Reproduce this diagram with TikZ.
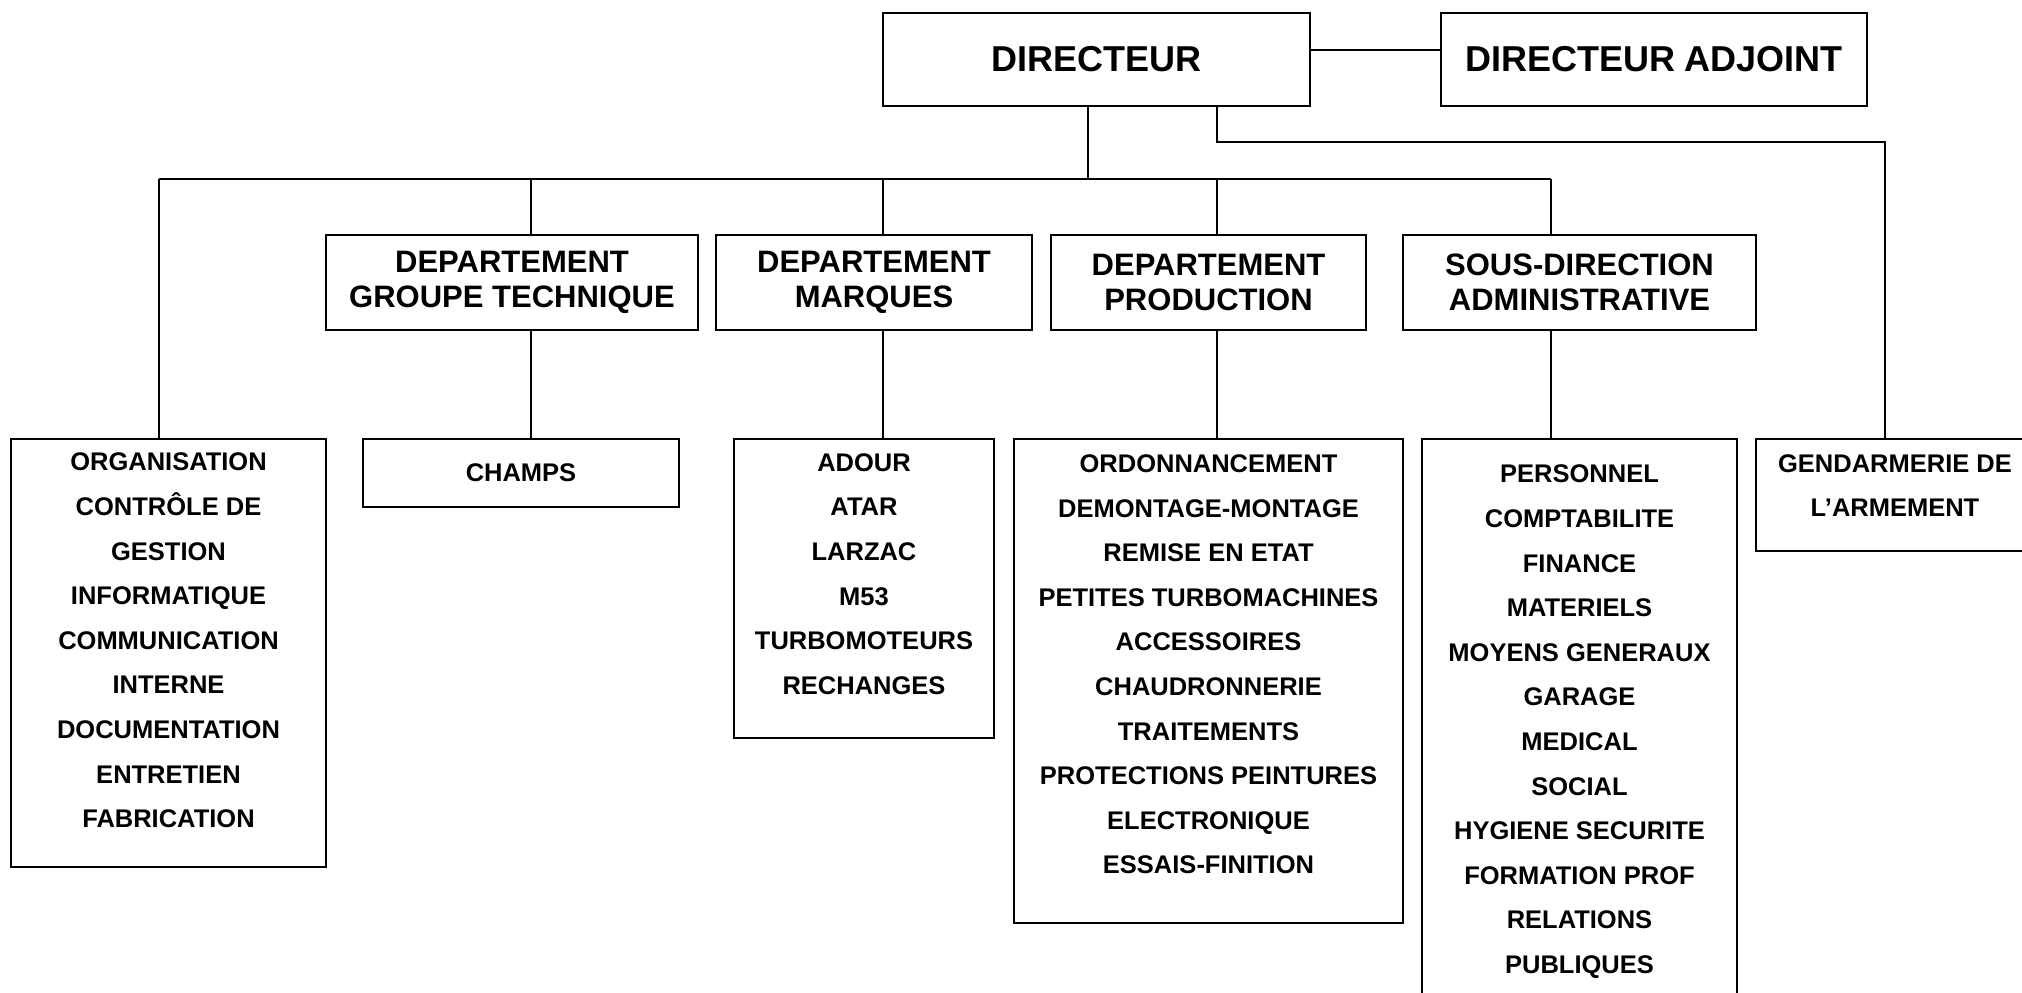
\documentclass[tikz,border=0pt]{standalone}
\usepackage{fontspec}
\setmainfont{Liberation Sans}
\begin{document}
\begin{tikzpicture}[x=0.5pt,y=-0.5pt,
  box/.style={draw=black, line width=1.15pt, fill=white, inner sep=0pt, align=center},
  topbox/.style={box, font=\fontsize{18}{21}\selectfont\bfseries},
  midbox/.style={box, font=\fontsize{15.5}{17.5}\selectfont\bfseries},
  lowbox/.style={box, font=\fontsize{12.75}{22.3}\selectfont\bfseries},
  listtext/.style={inner sep=0pt, align=center, anchor=north, font=\fontsize{12.75}{22.3}\selectfont\bfseries},
  link/.style={draw=black, line width=1pt}]
\useasboundingbox (0,0) rectangle (2022,992);
\clip (0,0) rectangle (2022,992);
\fill[white] (0,0) rectangle (2022,992);

% connectors first (boxes are drawn on top)
\coordinate (jdir) at (1088,179);
\coordinate (jorg) at (159,179);
\coordinate (jgt) at (531,179);
\coordinate (jmq) at (883,179);
\coordinate (jpr) at (1217,179);
\coordinate (jsd) at (1551,179);
\coordinate (g1) at (1217,142);
\coordinate (g2) at (1885,142);

% level 0
\node[topbox, minimum width=213.5pt, minimum height=46.5pt] (dir) at (1096.5,59.5) {DIRECTEUR};
\node[topbox, minimum width=213pt, minimum height=46.5pt] (adj) at (1654,59.5) {DIRECTEUR ADJOINT};

% level 1
\node[midbox, minimum width=186pt, minimum height=47.5pt] (gt) at (512,282.5) {DEPARTEMENT\\GROUPE TECHNIQUE};
\node[midbox, minimum width=158pt, minimum height=47.5pt] (mq) at (874,282.5) {DEPARTEMENT\\MARQUES};
\node[midbox, minimum width=157.5pt, minimum height=47.5pt] (pr) at (1208.5,282.5) {DEPARTEMENT\\PRODUCTION};
\node[midbox, minimum width=176.5pt, minimum height=47.5pt] (sd) at (1579.5,282.5) {SOUS-DIRECTION\\ADMINISTRATIVE};

% level 2
\node[lowbox, minimum width=157.5pt, minimum height=214pt] (org) at (168.5,653) {};
\node[lowbox, minimum width=158pt, minimum height=34pt] (ch) at (521,473) {CHAMPS};
\node[lowbox, minimum width=130pt, minimum height=149.5pt] (ad) at (864,588.5) {};
\node[lowbox, minimum width=194.5pt, minimum height=242pt] (ord) at (1208.5,681) {};
\node[lowbox, minimum width=157.5pt, minimum height=285.5pt] (per) at (1579.5,724.5) {};
\node[lowbox, minimum width=139pt, minimum height=56pt] (gen) at (1895,495) {};

\node[listtext] (orgt) at ([yshift=-7.4pt]org.north) {ORGANISATION\\CONTRÔLE DE\\GESTION\\INFORMATIQUE\\COMMUNICATION\\INTERNE\\DOCUMENTATION\\ENTRETIEN\\FABRICATION};
\node[listtext] (adt) at ([yshift=-7.6pt]ad.north) {ADOUR\\ATAR\\LARZAC\\M53\\TURBOMOTEURS\\RECHANGES};
\node[listtext] (ordt) at ([yshift=-8.2pt]ord.north) {ORDONNANCEMENT\\DEMONTAGE-MONTAGE\\REMISE EN ETAT\\PETITES TURBOMACHINES\\ACCESSOIRES\\CHAUDRONNERIE\\TRAITEMENTS\\PROTECTIONS PEINTURES\\ELECTRONIQUE\\ESSAIS-FINITION};
\node[listtext] (pert) at ([yshift=-13.4pt]per.north) {PERSONNEL\\COMPTABILITE\\FINANCE\\MATERIELS\\MOYENS GENERAUX\\GARAGE\\MEDICAL\\SOCIAL\\HYGIENE SECURITE\\FORMATION PROF\\RELATIONS\\PUBLIQUES};
\node[listtext] (gent) at ([yshift=-8pt]gen.north) {GENDARMERIE DE\\L’ARMEMENT};

% connectors
\draw[link] ([yshift=4.75pt]dir.east) -- ([yshift=4.75pt]adj.west);
\draw[link] (jdir |- dir.south) -- (jdir);
\draw[link] (jorg) -- (jsd);
\draw[link] (jorg) -- (jorg |- org.north);
\draw[link] (jgt) -- (jgt |- gt.north);
\draw[link] (jmq) -- (jmq |- mq.north);
\draw[link] (jpr) -- (jpr |- pr.north);
\draw[link] (jsd) -- (jsd |- sd.north);
\draw[link] (jgt |- gt.south) -- (jgt |- ch.north);
\draw[link] (jmq |- mq.south) -- (jmq |- ad.north);
\draw[link] (jpr |- pr.south) -- (jpr |- ord.north);
\draw[link] (jsd |- sd.south) -- (jsd |- per.north);
\draw[link] (g1 |- dir.south) -- (g1) -- (g2) -- (g2 |- gen.north);
\end{tikzpicture}
\end{document}
